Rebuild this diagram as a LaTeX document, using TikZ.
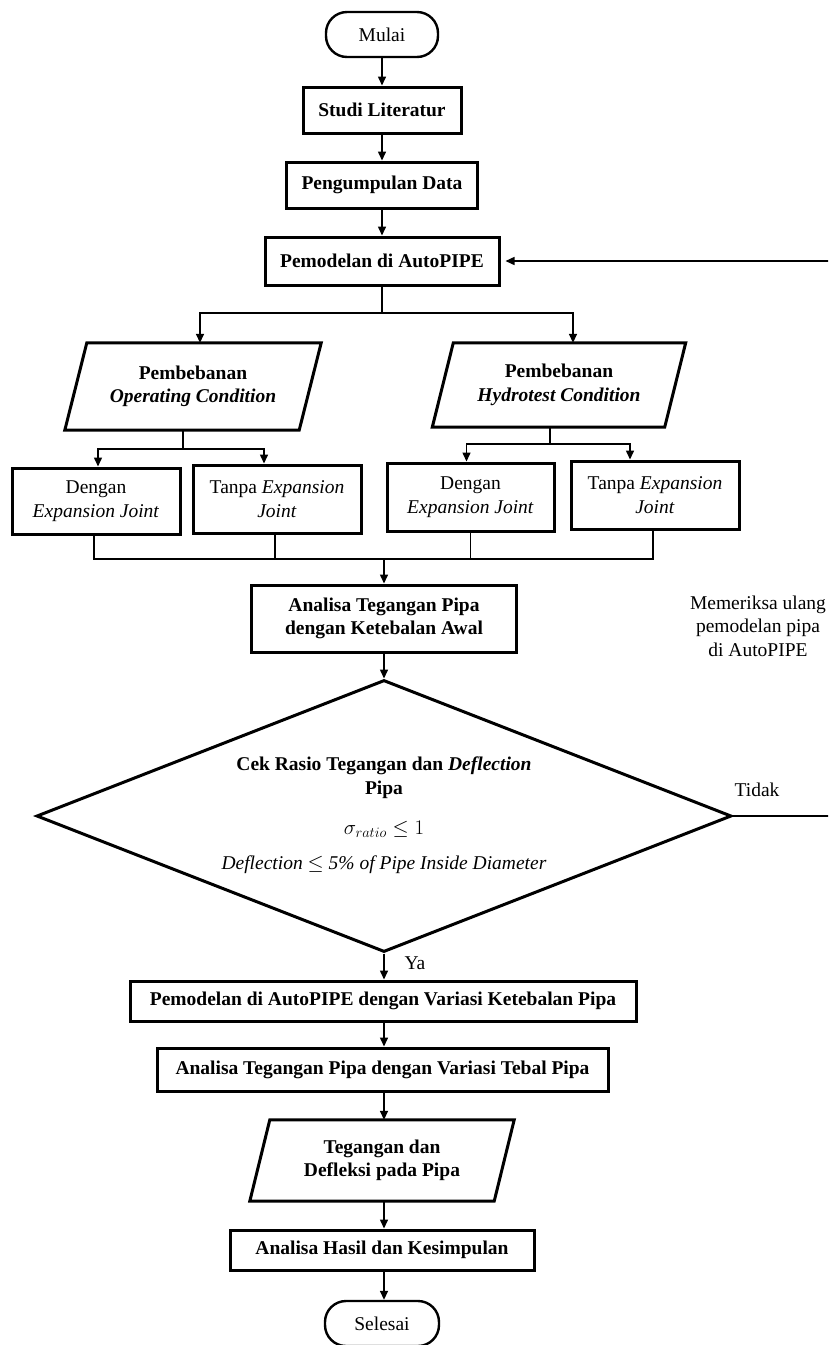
\documentclass[tikz,border=0pt]{standalone}
\usepackage{fontspec}
\setmainfont{Liberation Serif}
\usetikzlibrary{arrows.meta,shapes.geometric}
\begin{document}
\begin{tikzpicture}[x=1pt,y=-1pt,
  every node/.style={font=\fontsize{19.5}{23.5}\selectfont, inner sep=0pt, align=center},
  bf/.style={font=\fontsize{19.5}{23.5}\selectfont\bfseries},
  box/.style={draw, line width=3pt, rectangle},
  term/.style={draw, line width=2.4pt, rectangle, rounded corners=21pt},
  ln/.style={line width=1.5pt},
  arr/.style={ln, -{Triangle[length=9pt,width=8pt]}},
  pbord/.style={line width=3pt, line join=miter}]
\clip (0,0) rectangle (828,1345);
\fill[white] (0,0) rectangle (828,1345);

% main column
\node[term, minimum width=112, minimum height=45] (mulai) at (382,34.5) {Mulai};
\node[box, bf, minimum width=158, minimum height=46] (studi) at (382,110) {Studi Literatur};
\node[box, bf, minimum width=191, minimum height=46] (data) at (382,185) {Pengumpulan Data};
\node[box, bf, minimum width=234, minimum height=48] (pem) at (382,261) {Pemodelan di AutoPIPE};

% parallelograms
\node[bf, minimum width=234, minimum height=87] (opc) at (193,386.5) {Pembebanan\\\textit{Operating Condition}};
\draw[pbord] ([xshift=11]opc.north west) -- ([xshift=11]opc.north east) -- ([xshift=-11]opc.south east) -- ([xshift=-11]opc.south west) -- cycle;
\node[bf, minimum width=232, minimum height=84] (hyd) at (559,385) {Pembebanan\\\textit{Hydrotest Condition}};
\draw[pbord] ([xshift=10.5]hyd.north west) -- ([xshift=10.5]hyd.north east) -- ([xshift=-10.5]hyd.south east) -- ([xshift=-10.5]hyd.south west) -- cycle;

% small boxes
\node[box, minimum width=168, minimum height=66] (dl) at (96,501) {Dengan\\\textit{Expansion Joint}};
\node[box, minimum width=168, minimum height=68] (tl) at (277,499) {Tanpa \textit{Expansion}\\\textit{Joint}};
\node[box, minimum width=167, minimum height=68] (dr) at (470.5,497) {Dengan\\\textit{Expansion Joint}};
\node[box, minimum width=168, minimum height=68] (tr) at (655,495) {Tanpa \textit{Expansion}\\\textit{Joint}};

\node[box, bf, minimum width=265, minimum height=67] (awal) at (384,618.5) {Analisa Tegangan Pipa\\dengan Ketebalan Awal};

% decision
\node[diamond, draw, line width=3pt, minimum width=695, minimum height=272, inner sep=0pt] (dec) at (384,816) {};
\node (dect) at (384,815) {\textbf{Cek Rasio Tegangan dan \textit{Deflection}}\\\textbf{Pipa}\\[16.5pt]$\sigma_{ratio} \leq 1$\\[11.5pt]\textit{Deflection} $\leq$ \textit{5\% of Pipe Inside Diameter}};

\node[box, bf, minimum width=506, minimum height=40] (pemvar) at (383,1001) {Pemodelan di AutoPIPE dengan Variasi Ketebalan Pipa};
\node[box, bf, minimum width=451, minimum height=43] (anvar) at (382.5,1069.5) {Analisa Tegangan Pipa dengan Variasi Tebal Pipa};
\node[bf, minimum width=244, minimum height=81] (hasil) at (382,1160.5) {Tegangan dan\\Defleksi pada Pipa};
\draw[pbord] ([xshift=10]hasil.north west) -- ([xshift=10]hasil.north east) -- ([xshift=-10]hasil.south east) -- ([xshift=-10]hasil.south west) -- cycle;
\node[box, bf, minimum width=304, minimum height=40] (kes) at (382,1250) {Analisa Hasil dan Kesimpulan};
\node[term, minimum width=114, minimum height=45] (selesai) at (382,1323.5) {Selesai};

% labels
\node (ya) at (415,963) {Ya};
\node (tidak) at (757,790) {Tidak};
\node (cek) at (758,626) {Memeriksa ulang\\pemodelan pipa\\di AutoPIPE};

% junctions
\coordinate (j1) at (382,313);
\coordinate (j2) at (183,449);
\coordinate (j3) at (550,444);
\coordinate (j4) at (384,559);
\coordinate (fb1) at (832,816);
\coordinate (fb2) at (832,261);

% connectors
\draw[arr] (mulai.south) -- (studi.north);
\draw[arr] (studi.south) -- (data.north);
\draw[arr] (data.south) -- (pem.north);
\draw[ln] (pem.south) -- (j1);
\draw[arr] (j1) -| ([xshift=7]opc.north);
\draw[arr] (j1) -| ([xshift=14]hyd.north);
\draw[ln] ([xshift=-10]opc.south) -- (j2);
\draw[arr] (j2) -| ([xshift=2]dl.north);
\draw[arr] (j2) -| ([xshift=-13]tl.north);
\draw[ln] ([xshift=-9]hyd.south) -- (j3);
\draw[arr] (j3) -| ([xshift=-4]dr.north);
\draw[arr] (j3) -| ([xshift=-25]tr.north);
\draw[ln] ([xshift=-2]dl.south) -- ([xshift=-2]dl.south |- j4) -- ([xshift=-2]tr.south |- j4) -- ([xshift=-2]tr.south);
\draw[ln] ([xshift=-2]tl.south) -- ([xshift=-2]tl.south |- j4);
\draw[ln] (dr.south) -- (dr.south |- j4);
\draw[arr] (j4) -- (j4 |- awal.north);
\draw[arr] (awal.south) -- (dec.north);
\draw[arr] (dec.south) -- (dec.south |- pemvar.north);
\draw[arr] (dec.south |- pemvar.south) -- (dec.south |- anvar.north);
\draw[arr] (dec.south |- anvar.south) -- (dec.south |- hasil.north);
\draw[arr] (dec.south |- hasil.south) -- (dec.south |- kes.north);
\draw[arr] (dec.south |- kes.south) -- (dec.south |- selesai.north);
\draw[arr, shorten >=5pt] (dec.east) -- (fb1) -- (fb2) -- (pem.east);
\end{tikzpicture}
\end{document}
